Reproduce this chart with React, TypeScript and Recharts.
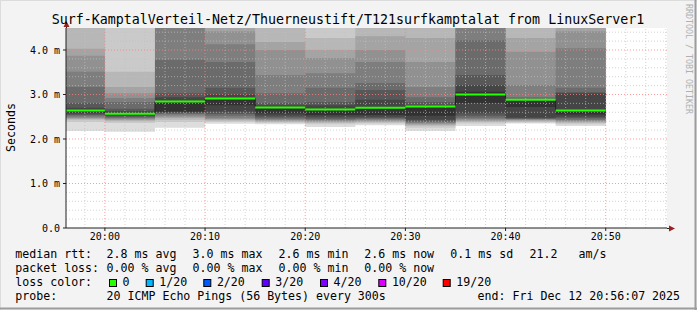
import React from "react";
import { ComposedChart, Area, Line, XAxis, YAxis, CartesianGrid, ReferenceLine } from "recharts";

// minutes relative to 20:00, one slot = 5 minutes (300s step)
const slotStart = [-5, 0, 5, 10, 15, 20, 25, 30, 35, 40, 45];
const slotEnd = 50;

// median rtt per slot (ms)
const medianRtt = [2.64, 2.57, 2.84, 2.91, 2.71, 2.66, 2.7, 2.73, 3.0, 2.88, 2.64];

// 20 sorted pings per slot (ms)
const ping1955 = [2.18, 2.38, 2.43, 2.45, 2.47, 2.49, 2.52, 2.54, 2.57, 2.6, 2.66, 2.7, 2.81, 3.17, 3.51, 3.87, 4.03, 4.6, 4.8, 5.0];
const ping2000 = [2.16, 2.36, 2.4, 2.42, 2.44, 2.46, 2.48, 2.5, 2.53, 2.55, 2.59, 2.63, 2.68, 2.83, 2.92, 3.03, 3.17, 3.51, 4.7, 5.0];
const ping2005 = [2.25, 2.38, 2.43, 2.47, 2.5, 2.53, 2.56, 2.58, 2.6, 2.61, 2.83, 2.94, 3.03, 3.78, 4.6, 4.7, 4.8, 4.9, 5.0, 5.1];
const ping2010 = [2.34, 2.38, 2.41, 2.43, 2.45, 2.48, 2.52, 2.56, 2.61, 2.76, 2.92, 3.0, 3.15, 3.73, 4.13, 4.42, 4.6, 4.7, 4.8, 4.9];
const ping2015 = [2.33, 2.36, 2.38, 2.4, 2.42, 2.44, 2.46, 2.49, 2.53, 2.58, 2.72, 2.76, 2.81, 3.03, 3.44, 4.0, 4.18, 4.6, 4.7, 4.8];
const ping2020 = [2.27, 2.33, 2.36, 2.38, 2.4, 2.42, 2.44, 2.46, 2.5, 2.54, 2.67, 2.76, 2.83, 3.15, 3.48, 3.82, 4.0, 4.27, 4.6, 4.7];
const ping2025 = [2.31, 2.35, 2.37, 2.39, 2.41, 2.43, 2.45, 2.47, 2.5, 2.54, 2.72, 2.88, 3.1, 3.26, 3.73, 4.0, 4.31, 4.6, 4.7, 4.8];
const ping2030 = [2.18, 2.25, 2.3, 2.32, 2.34, 2.36, 2.38, 2.4, 2.43, 2.52, 2.74, 2.77, 2.83, 2.94, 3.17, 3.73, 4.27, 4.6, 4.7, 4.8];
const ping2035 = [2.29, 2.35, 2.38, 2.4, 2.42, 2.45, 2.48, 2.52, 2.58, 2.81, 3.06, 3.21, 3.44, 4.22, 4.6, 4.7, 4.8, 4.9, 5.0, 5.1];
const ping2040 = [2.35, 2.37, 2.39, 2.41, 2.43, 2.44, 2.45, 2.46, 2.48, 2.72, 2.88, 2.89, 2.9, 2.94, 3.21, 3.96, 4.27, 4.6, 4.7, 4.8];
const ping2045 = [2.29, 2.33, 2.36, 2.38, 2.4, 2.42, 2.44, 2.47, 2.5, 2.55, 2.65, 3.03, 3.05, 3.15, 4.04, 4.42, 4.6, 4.7, 4.8, 4.9];

const xTickValues = [0, 10, 20, 30, 40, 50];
const xTickLabels = ["20:00", "20:10", "20:20", "20:30", "20:40", "20:50"];
const yTickValues = [0, 1, 2, 3, 4];
const yTickLabels = ["0.0", "1.0 m", "2.0 m", "3.0 m", "4.0 m"];

const title = "Surf-KamptalVerteil-Netz/Thuerneustift/T121surfkamptalat from LinuxServer1";
const rttItems = ["2.8 ms avg", "3.0 ms max", "2.6 ms min", "2.6 ms now", "0.1 ms sd", "21.2", "am/s"];
const lossItems = ["0.00 % avg", "0.00 % max", "0.00 % min", "0.00 % now"];
const lossLabels = ["0", "1/20", "2/20", "3/20", "4/20", "10/20", "19/20"];
const lossColors = ["#26ff00", "#00b8ff", "#0059ff", "#5e00ff", "#7e00ff", "#dd00ff", "#ff0000"];
const probeText = "20 ICMP Echo Pings (56 Bytes) every 300s";
const endText = "end: Fri Dec 12 20:56:07 2025";

const slots = [ping1955, ping2000, ping2005, ping2010, ping2015, ping2020, ping2025, ping2030, ping2035, ping2040, ping2045];

// one table: smoke step rows (p, med) plus green median segments (m), broken with nulls
type Row = { t: number; p?: number[]; med?: number; m?: number | null };
const rows: Row[] = [];
slotStart.forEach((t, i) => {
  const next = i + 1 < slotStart.length ? slotStart[i + 1] : slotEnd;
  rows.push({ t, p: slots[i], med: medianRtt[i], m: medianRtt[i] });
  rows.push({ t: next - 0.0001, p: slots[i], med: medianRtt[i], m: medianRtt[i] });
  rows.push({ t: next - 0.00005, p: slots[i], med: medianRtt[i], m: null });
});
rows.push({ t: slotEnd, p: slots[slots.length - 1], med: medianRtt[medianRtt.length - 1], m: null });

const FONT = "'DejaVu Sans Mono', monospace";
const W = 697;
const H = 310;
const X0 = 66;
const X1 = 667;
const Y0 = 228;
const Y1 = 28;

const pairs = Array.from({ length: 10 }, (_, j) => j);
const smokeGrey = (j: number) => {
  const c = Math.floor((190 / 10) * (10 - (j + 1))) + 50;
  const h = c.toString(16).padStart(2, "0");
  return `#${h}${h}${h}`;
};
const pairKey = (j: number) => (d: any) => (d && d.p ? [d.p[j], d.p[19 - j]] : null);

const minorX: number[] = [];
for (let m = -2; m <= 56; m += 2) if (m % 10 !== 0) minorX.push(m);
const minorY: number[] = [];
for (let k = 1; k <= 22; k++) if (k % 5 !== 0) minorY.push(k / 5);

const rttX = [107.3, 193.3, 279.3, 365, 451, 530.3, 579.3];
const lossX = [107.3, 193.3, 279.3, 365];
const boxX = [109, 145.7, 203.3, 261.7, 320, 378.3, 442.7];

export default function App() {
  return (
    <div style={{ position: "absolute", left: 0, top: 0, width: W, height: H, background: "#f3f3f3" }}>
      <ComposedChart
        width={W}
        height={H}
        data={rows}
        margin={{ top: Y1, right: W - X1, bottom: H - Y0 - 20, left: X0 - 58 }}
      >
        <CartesianGrid fill="#ffffff" horizontal={false} vertical={false} />
        <XAxis
          type="number"
          dataKey="t"
          domain={[-3.883, 56.117]}
          allowDataOverflow
          ticks={xTickValues}
          tickFormatter={(v: number) => xTickLabels[xTickValues.indexOf(v)]}
          height={20}
          tickSize={3}
          tickMargin={2}
          axisLine={{ stroke: "#202020" }}
          tickLine={{ stroke: "#202020" }}
          tick={{ fontSize: 10, fill: "#000", fontFamily: FONT }}
        />
        <YAxis
          type="number"
          domain={[0, 4.494]}
          allowDataOverflow
          ticks={yTickValues}
          tickFormatter={(v: number) => yTickLabels[yTickValues.indexOf(v)]}
          width={58}
          tickSize={3}
          tickMargin={3}
          axisLine={{ stroke: "#202020" }}
          tickLine={{ stroke: "#202020" }}
          tick={{ fontSize: 10, fill: "#000", fontFamily: FONT }}
        />
        {pairs.map((j) => (
          <Area
            key={j}
            type="stepAfter"
            dataKey={pairKey(j)}
            fill={smokeGrey(j)}
            fillOpacity={1}
            stroke="none"
            isAnimationActive={false}
            activeDot={false}
          />
        ))}
        {minorX.map((v) => (
          <ReferenceLine key={"mx" + v} x={v} stroke="#c0c0c0" strokeOpacity={0.7} strokeDasharray="1 2" />
        ))}
        {minorY.map((v) => (
          <ReferenceLine key={"my" + v} y={v} stroke="#c0c0c0" strokeOpacity={0.7} strokeDasharray="1 2" />
        ))}
        {xTickValues.map((v) => (
          <ReferenceLine key={"Mx" + v} x={v} stroke="#ff8080" strokeOpacity={0.8} strokeDasharray="1 2" />
        ))}
        {yTickValues.slice(1).map((v) => (
          <ReferenceLine key={"My" + v} y={v} stroke="#ff8080" strokeOpacity={0.8} strokeDasharray="1 2" />
        ))}
        <Line
          type="stepAfter"
          dataKey="med"
          stroke="#202020"
          strokeWidth={1}
          dot={false}
          activeDot={false}
          isAnimationActive={false}
        />
        <Line
          type="linear"
          dataKey="m"
          stroke={lossColors[0]}
          strokeWidth={2}
          dot={false}
          activeDot={false}
          connectNulls={false}
          isAnimationActive={false}
        />
      </ComposedChart>
      <svg
        width={W}
        height={H}
        style={{ position: "absolute", left: 0, top: 0, pointerEvents: "none" }}
        fontFamily={FONT}
      >
        {/* frame */}
        <line x1={0} y1={0.5} x2={W} y2={0.5} stroke="#dcdcdc" />
        <line x1={0.5} y1={0} x2={0.5} y2={H} stroke="#dcdcdc" />
        <line x1={0} y1={H - 1.5} x2={W} y2={H - 1.5} stroke="#9c9c9c" strokeWidth={2} />
        <line x1={W - 1.5} y1={0} x2={W - 1.5} y2={H} stroke="#9c9c9c" strokeWidth={2} />

        {/* axis arrows */}
        <line x1={X0 + 0.5} y1={Y1} x2={X0 + 0.5} y2={23} stroke="#202020" />
        <polygon points={`${X0 - 2.5},27 ${X0 + 3.5},27 ${X0 + 0.5},21`} fill="#9a1f1f" />
        <line x1={X1} y1={Y0 + 0.5} x2={670} y2={Y0 + 0.5} stroke="#202020" />
        <polygon points={`669,${Y0 - 2.5} 669,${Y0 + 3.5} 675,${Y0 + 0.5}`} fill="#9a1f1f" />

        <text x={348} y={24} textAnchor="middle" fontSize={13.3} fill="#000">
          {title}
        </text>
        <text
          x={0}
          y={0}
          transform="translate(15,127.5) rotate(-90)"
          textAnchor="middle"
          fontSize={11.6}
          fill="#000"
        >
          Seconds
        </text>
        <text
          x={0}
          y={0}
          transform="translate(686,4) rotate(90)"
          fontSize={8.3}
          fill="#b0b0b0"
        >
          RRDTOOL / TOBI OETIKER
        </text>

        <g fontSize={11.6} fill="#000" style={{ whiteSpace: "pre" }}>
          <text x={15.3} y={258.3}>median rtt:</text>
          {rttItems.map((s, i) => (
            <text key={s + i} x={rttX[i] - 0.7} y={258.3}>{s}</text>
          ))}
          <text x={15.3} y={272.3}>packet loss:</text>
          {lossItems.map((s, i) => (
            <text key={s + i} x={lossX[i] - 0.7} y={272.3}>{s}</text>
          ))}
          <text x={15.3} y={286.3}>loss color:</text>
          {lossLabels.map((s, i) => (
            <g key={s}>
              <rect x={boxX[i] + 0.5} y={279.5} width={7} height={7} fill={lossColors[i]} stroke="#000" />
              <text x={boxX[i] + 13.6} y={286.3}>{s}</text>
            </g>
          ))}
          <text x={15.3} y={300}>probe:</text>
          <text x={106.6} y={300}>{probeText}</text>
          <text x={477.6} y={300}>{endText}</text>
        </g>
      </svg>
    </div>
  );
}
